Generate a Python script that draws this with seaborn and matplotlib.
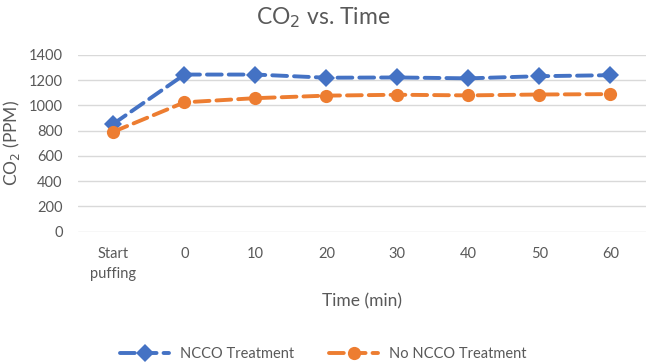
import matplotlib
matplotlib.use("Agg")
import matplotlib.pyplot as plt
import seaborn as sns
import numpy as np
import pandas as pd

categories = ["Start\npuffing", "0", "10", "20", "30", "40", "50", "60"]
ncco = [855, 1245, 1245, 1220, 1222, 1215, 1232, 1240]
no_ncco = [792, 1025, 1058, 1078, 1085, 1080, 1087, 1090]
series_names = ["NCCO Treatment", "No NCCO Treatment"]
yticks = [0, 200, 400, 600, 800, 1000, 1200, 1400]

sns.set_theme(style="white")
plt.rcParams["font.family"] = ["Lato", "DejaVu Sans"]

pos = np.arange(len(categories))
df = pd.DataFrame({
    "pos": np.concatenate([pos, pos]),
    "value": ncco + no_ncco,
    "series": [series_names[0]] * len(pos) + [series_names[1]] * len(pos),
})

fig = plt.figure(figsize=(6.46, 3.63), dpi=100)
ax = fig.add_axes([0.1207, 0.3617, 0.879, 0.4868])

colors = {series_names[0]: "#4472C4", series_names[1]: "#ED7D31"}
markers = {series_names[0]: "D", series_names[1]: "o"}
msize = {series_names[0]: 9.5, series_names[1]: 9.5}
for name in series_names:
    sub = df[df["series"] == name]
    sns.lineplot(data=sub, x="pos", y="value", ax=ax, color=colors[name],
                 marker=markers[name], markersize=msize[name], markeredgewidth=0,
                 linewidth=2.8, sort=False, label=name, zorder=3,
                 dashes=False)
for line in ax.lines:
    line.set_dashes((3.8, 1.8))
    line.set_dash_capstyle("round")

ax.set_xlim(-0.5, len(categories) - 0.5)
ax.set_ylim(0, 1400)
ax.set_yticks(yticks)
ax.set_xticks(pos)
ax.set_xticklabels(categories)
ax.grid(axis="y", color="#D9D9D9", linewidth=1.0)
ax.set_axisbelow(True)
for s in ax.spines.values():
    s.set_visible(False)
ax.tick_params(axis="both", length=0, labelsize=10.5, colors="#595959")
ax.tick_params(axis="x", pad=11)
ax.tick_params(axis="y", pad=11)
for lbl in ax.get_xticklabels():
    lbl.set_linespacing(1.55)
    lbl.set_verticalalignment("top")

ax.set_xlabel("Time (min)", fontsize=12.5, color="#595959", labelpad=9)
ax.set_ylabel("CO$_2$ (PPM)", fontsize=12.5, color="#595959", labelpad=5)
fig.text(0.5, 0.952, "CO$_2$ vs. Time", ha="center", va="center",
         fontsize=16.5, color="#595959")

ax.get_legend().remove()
handles, labels = ax.get_legend_handles_labels()
leg = fig.legend(handles, labels, loc="center", bbox_to_anchor=(0.5, 0.025),
                 ncol=2, frameon=False, fontsize=10.5, handlelength=3.4,
                 columnspacing=2.4, handletextpad=0.7)
for t in leg.get_texts():
    t.set_color("#595959")

fig.savefig("out.png", dpi=100)
